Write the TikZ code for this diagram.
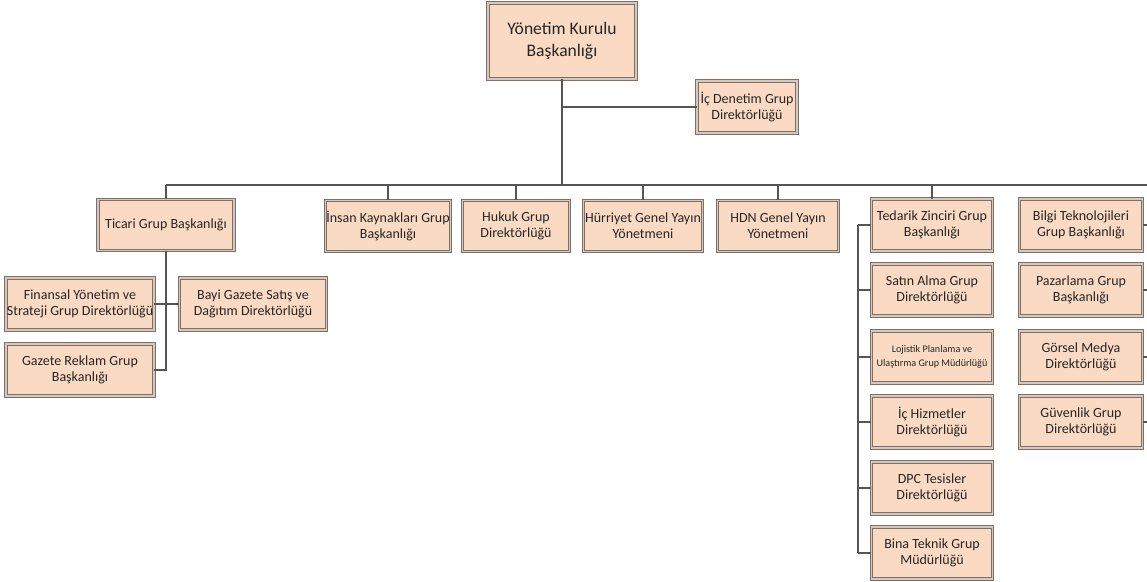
\documentclass[tikz,border=0pt]{standalone}
\usepackage{fontspec}
\setmainfont{Carlito}
\usepackage{tikz}

\definecolor{boxfill}{RGB}{250,218,194}
\definecolor{boxline}{RGB}{125,112,105}
\definecolor{boxgap}{RGB}{215,200,190}
\definecolor{linecol}{RGB}{85,85,85}

\tikzset{
    orgbox/.style={draw=boxline, double=boxgap, double distance=0.9pt, line width=0.7pt,
        fill=boxfill, align=center, inner sep=0.3pt, text=black!85,
        font=\fontsize{10.5}{11.8}\selectfont},
    link/.style={draw=linecol, line width=1.3pt}
}

\begin{document}
\begin{tikzpicture}[x=0.75pt, y=-0.75pt]

        \useasboundingbox (0,0) rectangle (1147,582);

        % Top
        \node[orgbox, minimum width=111pt, minimum height=57pt,
              font=\fontsize{13.2}{16.5}\selectfont] (ykb) at (562,41) {Yönetim Kurulu\\Başkanlığı};
        \node[orgbox, minimum width=75pt, minimum height=39pt] (denetim) at (747,107) {İç Denetim Grup\\Direktörlüğü};

        % Second level
        \node[orgbox, minimum width=102pt, minimum height=38pt] (ticari) at (166,225) {Ticari Grup Başkanlığı};
        \node[orgbox, minimum width=90pt, minimum height=38pt] (insan) at (388,226) {İnsan Kaynakları Grup\\Başkanlığı};
        \node[orgbox, minimum width=80pt, minimum height=38pt] (hukuk) at (516,226) {Hukuk Grup\\Direktörlüğü};
        \node[orgbox, minimum width=89pt, minimum height=38pt] (hurriyet) at (643,226) {Hürriyet Genel Yayın\\Yönetmeni};
        \node[orgbox, minimum width=91pt, minimum height=38pt] (hdn) at (778,226) {HDN Genel Yayın\\Yönetmeni};
        \node[orgbox, minimum width=91pt, minimum height=39pt] (tedarik) at (932,225) {Tedarik Zinciri Grup\\Başkanlığı};
        \node[orgbox, minimum width=92pt, minimum height=39pt] (bilgi) at (1081,225) {Bilgi Teknolojileri\\Grup Başkanlığı};

        % Ticari group
        \node[orgbox, minimum width=111pt, minimum height=39pt] (finansal) at (80,304) {Finansal Yönetim ve\\Strateji Grup Direktörlüğü};
        \node[orgbox, minimum width=110pt, minimum height=39pt] (bayi) at (253,304) {Bayi Gazete Satış ve\\Dağıtım Direktörlüğü};
        \node[orgbox, minimum width=111pt, minimum height=39pt] (gazete) at (80,370) {Gazete Reklam Grup\\Başkanlığı};

        % Tedarik group
        \node[orgbox, minimum width=91pt, minimum height=39pt] (satin) at (932,290) {Satın Alma Grup\\Direktörlüğü};
        \node[orgbox, minimum width=91pt, minimum height=39pt,
              font=\fontsize{7.6}{11}\selectfont] (lojistik) at (932,357) {Lojistik Planlama ve\\Ulaştırma Grup Müdürlüğü};
        \node[orgbox, minimum width=91pt, minimum height=39pt] (hizmet) at (932,422) {İç Hizmetler\\Direktörlüğü};
        \node[orgbox, minimum width=91pt, minimum height=39pt] (dpc) at (932,488) {DPC Tesisler\\Direktörlüğü};
        \node[orgbox, minimum width=91pt, minimum height=39pt] (bina) at (932,553) {Bina Teknik Grup\\Müdürlüğü};

        % Bilgi column
        \node[orgbox, minimum width=92pt, minimum height=39pt] (pazar) at (1081,290) {Pazarlama Grup\\Başkanlığı};
        \node[orgbox, minimum width=92pt, minimum height=39pt] (gorsel) at (1081,357) {Görsel Medya\\Direktörlüğü};
        \node[orgbox, minimum width=92pt, minimum height=39pt] (guvenlik) at (1081,422) {Güvenlik Grup\\Direktörlüğü};

        % Bus and free ends
        \coordinate (busL) at (166,185);
        \coordinate (busR) at (1147,185);
        \coordinate (spine) at (858,225);

        % Top lines
	\draw[link] (ykb.south) -- (ykb.south |- busL);
	\draw[link] (ykb.south |- denetim.west) -- (denetim.west);
	\draw[link] (busL) -- (busR);

	% Drops
	\draw[link] (ticari.north |- busL) -- (ticari.north);
	\draw[link] (insan.north |- busL) -- (insan.north);
	\draw[link] (hukuk.north |- busL) -- (hukuk.north);
	\draw[link] (hurriyet.north |- busL) -- (hurriyet.north);
	\draw[link] (hdn.north |- busL) -- (hdn.north);
	\draw[link] (tedarik.north |- busL) -- (tedarik.north);

	% Ticari lines
	\draw[link] (ticari.south) -- (ticari.south |- gazete.east) -- (gazete.east);
	\draw[link] (finansal.east) -- (bayi.west);

	% Tedarik lines
	\draw[link] (spine |- tedarik.west) -- (spine |- bina.west);
	\foreach \n in {tedarik, satin, lojistik, hizmet, dpc, bina}
	    \draw[link] (spine |- \n.west) -- (\n.west);

	% Bilgi lines
	\foreach \n in {bilgi, pazar, gorsel, guvenlik}
	    \draw[link] (\n.east) -- (\n.east -| busR);

\end{tikzpicture}
\end{document}
